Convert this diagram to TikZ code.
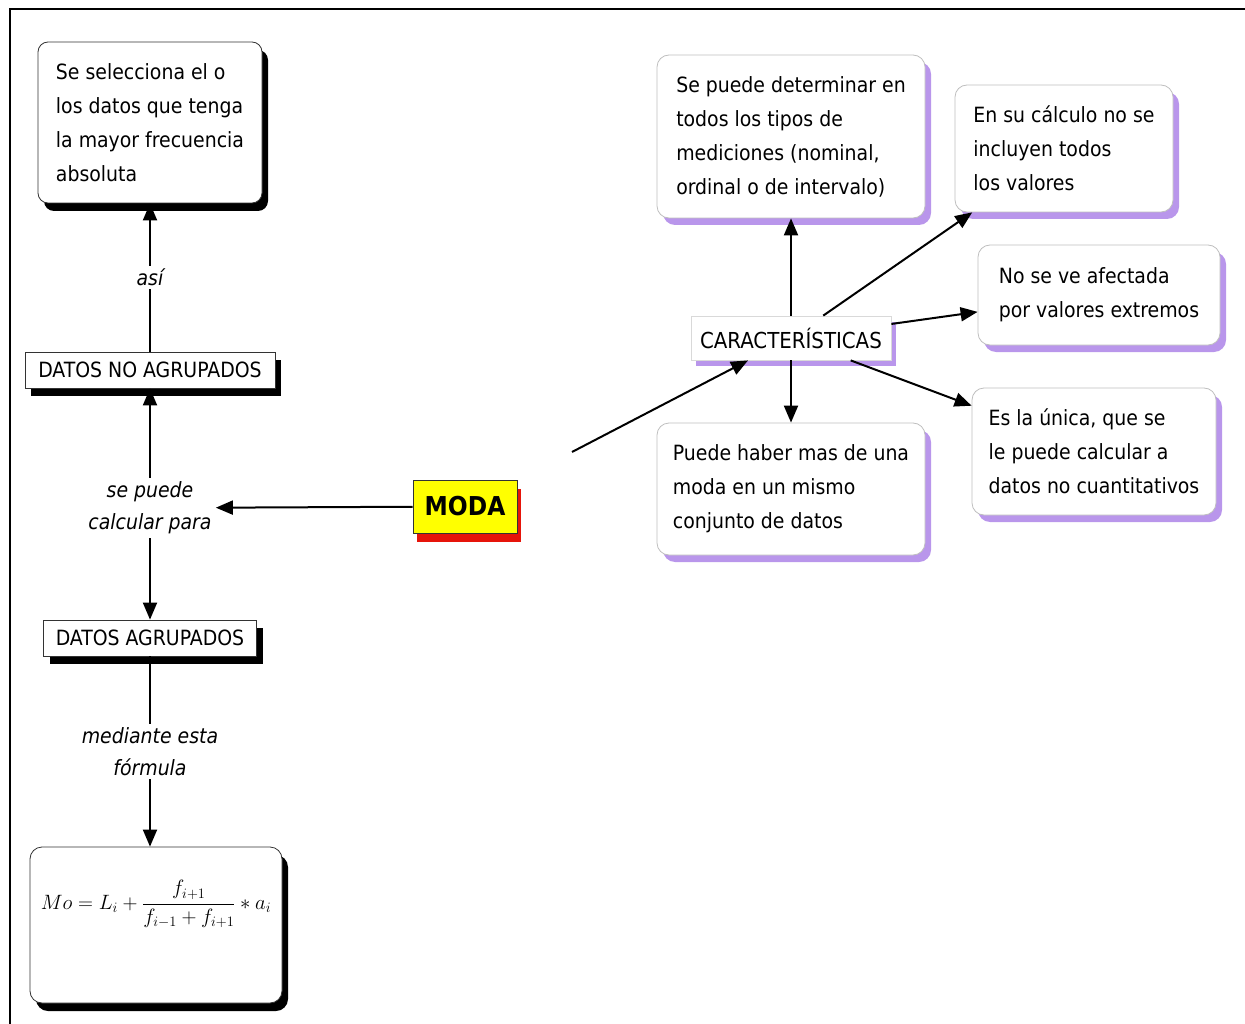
\documentclass[tikz,border=0pt]{standalone}
\usepackage{fontspec}
\setmainfont{DejaVuSansCondensed}[Extension=.ttf,BoldFont=DejaVuSansCondensed-Bold,ItalicFont=DejaVuSansCondensed-Oblique,BoldItalicFont=DejaVuSansCondensed-BoldOblique]
\usetikzlibrary{positioning,shapes,shadows,arrows.meta}
\definecolor{lila}{RGB}{185,150,235}
\definecolor{rojo}{RGB}{230,20,10}
\definecolor{amarillo}{RGB}{255,255,0}
\begin{document}
\begin{tikzpicture}[x=1pt,y=-1pt,line width=2pt,
    flecha/.style={-{Triangle[length=17pt,width=14pt]}},
    every node/.style={font=\fontsize{21}{34}\selectfont},
    negra/.style={draw=black!80,line width=0.8pt,fill=white,general shadow={fill=black,shadow xshift=6pt,shadow yshift=-8pt}},
    lilabox/.style={draw=black!25,line width=0.8pt,fill=white,rounded corners=12pt,align=left,general shadow={fill=lila,shadow xshift=6pt,shadow yshift=-7pt}},
    etiqueta/.style={fill=white,align=center,font=\fontsize{21}{32}\selectfont\itshape}]
                \useasboundingbox (0,0) rectangle (1245,1024);
                \draw[line width=2pt] (10,1024) -- (10,9) -- (1245,9);
                % columna izquierda
                \node[negra,rounded corners=10pt,minimum width=224pt,minimum height=161pt,align=left] (sel) at (150,122.5) {Se selecciona el o\\los datos que tenga\\la mayor frecuencia\\absoluta};
                \node[negra,minimum width=250pt,minimum height=36pt] (noagr) at (150,370) {DATOS NO AGRUPADOS};
                \node[etiqueta] (calc) at (150,508) {se puede\\calcular para};
                \node[negra,minimum width=213pt,minimum height=36pt] (agr) at (150,638) {DATOS AGRUPADOS};
                \node[negra,rounded corners=12pt,minimum width=252pt,minimum height=156pt,font=\fontsize{21}{24}\selectfont] (form) at (156,925) {\raisebox{16pt}[0pt][0pt]{$Mo = L_i + \displaystyle\frac{f_{i+1}}{f_{i-1}+f_{i+1}} * a_i$}};
                \node[draw=black!80,line width=0.8pt,fill=amarillo,minimum width=104pt,minimum height=53pt,font=\fontsize{26}{30}\selectfont\bfseries,general shadow={fill=rojo,shadow xshift=4pt,shadow yshift=-9pt}] (moda) at (465,506.5) {MODA};
                % caracteristicas
                \node[draw=black!15,line width=0.8pt,fill=white,minimum width=200pt,minimum height=44pt,font=\fontsize{22}{26}\selectfont,general shadow={fill=lila,shadow xshift=5pt,shadow yshift=-6pt}] (carac) at (791,338) {CARACTERÍSTICAS};
                \node[lilabox,minimum width=268pt,minimum height=163pt] (det) at (791,136.5) {Se puede determinar en\\todos los tipos de\\mediciones (nominal,\\ordinal o de intervalo)};
                \node[lilabox,minimum width=218pt,minimum height=127pt] (calc2) at (1064,148.5) {En su cálculo no se\\incluyen todos\\los valores};
                \node[lilabox,minimum width=242pt,minimum height=100pt] (afect) at (1099,295) {No se ve afectada\\por valores extremos};
                \node[lilabox,minimum width=244pt,minimum height=127pt] (unica) at (1094,451.5) {Es la única, que se\\le puede calcular a\\datos no cuantitativos};
                \node[lilabox,minimum width=268pt,minimum height=132pt] (haber) at (791,489) {Puede haber mas de una\\moda en un mismo\\conjunto de datos};
                \coordinate (m1) at (572,452);
                % conectores
                \draw[flecha] (noagr) -- node[etiqueta] {así} (sel);
                \draw[flecha] (calc) -- (noagr);
                \draw[flecha] (calc) -- (agr);
                \draw[flecha] (moda) -- (calc);
                \draw[flecha] (agr) -- node[etiqueta] {mediante esta\\fórmula} (agr |- form.north);
                \draw[flecha] (m1) -- (carac);
                \draw[flecha] (carac) -- (det);
                \draw[flecha] (carac) -- (calc2);
                \draw[flecha] (carac) -- (afect);
                \draw[flecha] (carac) -- (unica);
                \draw[flecha] (carac) -- (haber);
            \end{tikzpicture}
\end{document}
